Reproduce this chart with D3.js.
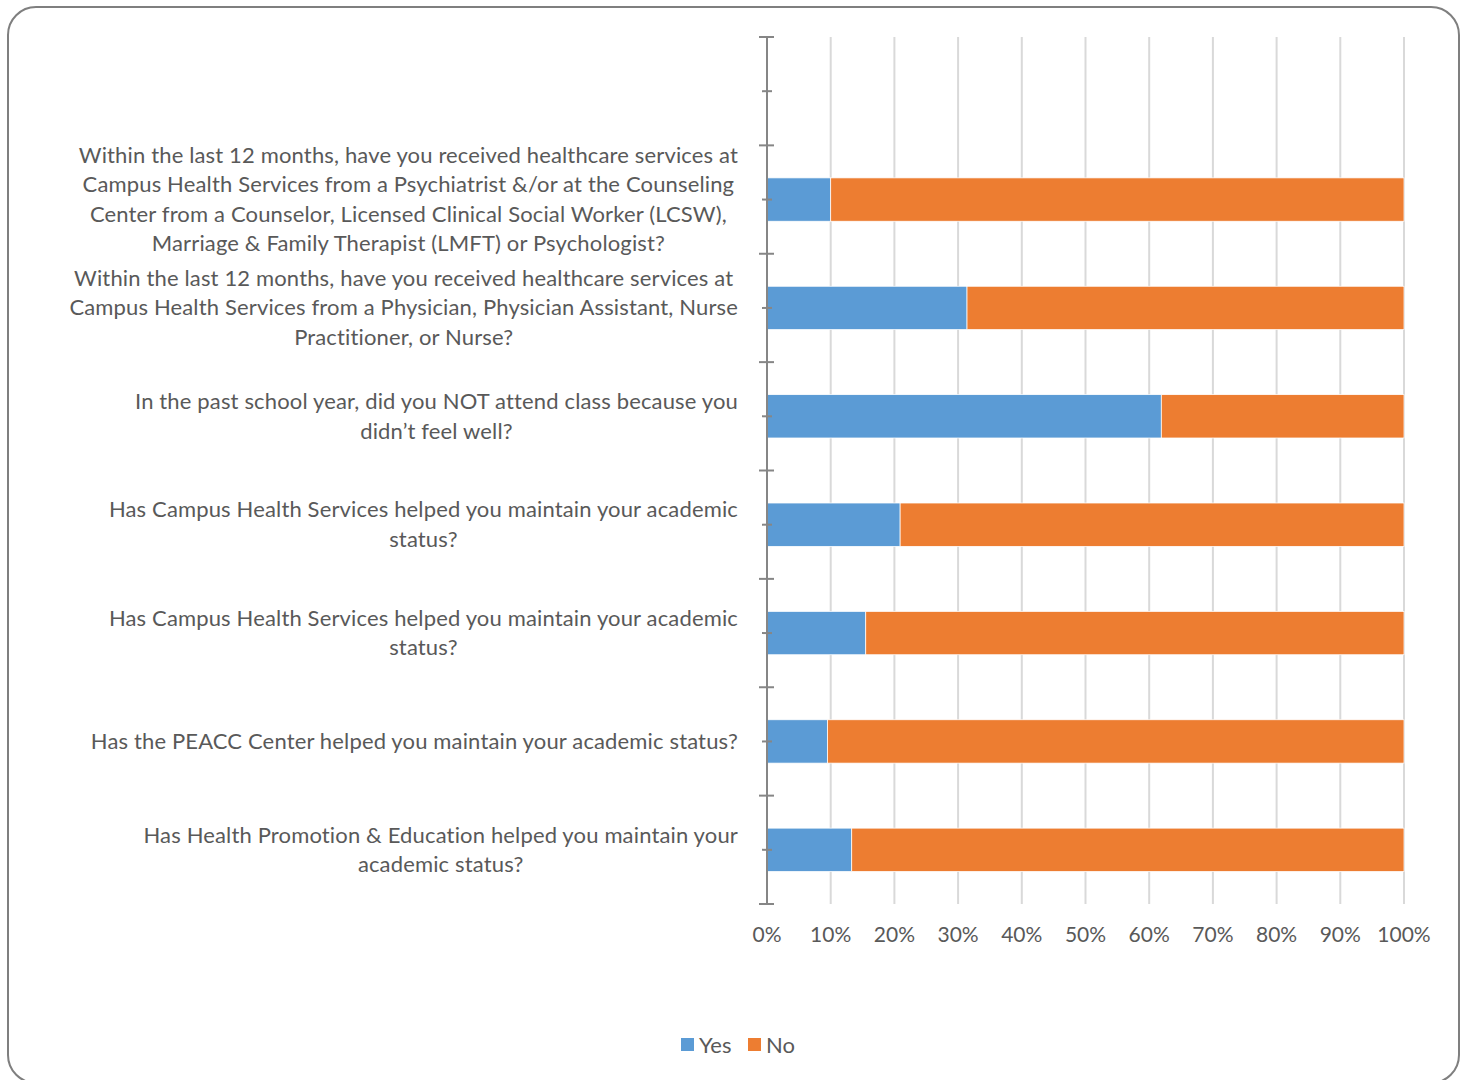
<!DOCTYPE html>
<html lang="en">

<head>
  <meta charset="utf-8">
  <title>Academic status survey</title>
  <script src="https://cdn.jsdelivr.net/npm/d3@7"></script>
  <style>
    body { margin: 0; background: #fff; }
    svg text { font-family: Lato, "Open Sans", sans-serif; fill: #595959; }
  </style>
</head>

<body>
  <svg id="chart" width="1461" height="1080"></svg>

  <script>
    // data
    var categories = [
      "Within the last 12 months, have you received healthcare services at\nCampus Health Services from a Psychiatrist &/or at the Counseling\nCenter from a Counselor, Licensed Clinical Social Worker (LCSW),\nMarriage & Family Therapist (LMFT) or Psychologist?",
      "Within the last 12 months, have you received healthcare services at\nCampus Health Services from a Physician, Physician Assistant, Nurse\nPractitioner, or Nurse?",
      "In the past school year, did you NOT attend class because you\ndidn\u2019t feel well?",
      "Has Campus Health Services helped you maintain your academic\nstatus?",
      "Has Campus Health Services helped you maintain your academic\nstatus?",
      "Has the PEACC Center helped you maintain your academic status?",
      "Has Health Promotion & Education helped you maintain your\nacademic status?"
    ];
    var yes = [10.0, 31.4, 61.9, 20.9, 15.5, 9.5, 13.3];
    var no = yes.map(function (v) { return 100 - v; });
    var seriesNames = ["Yes", "No"];
    var seriesColors = ["#5B9BD5", "#ED7D31"];
    var xTicks = [0, 10, 20, 30, 40, 50, 60, 70, 80, 90, 100];

    var svg = d3.select("#chart");

    // outer frame
    svg.append("rect")
      .attr("x", 8).attr("y", 7)
      .attr("width", 1451).attr("height", 1076)
      .attr("rx", 28).attr("ry", 28)
      .attr("fill", "none")
      .attr("stroke", "#7f7f7f")
      .attr("stroke-width", 2);

    var plot = { left: 767, right: 1404, top: 37, bottom: 904 };

    var x = d3.scaleLinear().domain([0, 100]).range([plot.left, plot.right]);

    // keys are indices so the two identical labels get their own band; "e" is the empty top slot
    var keys = ["e"].concat(categories.map(function (d, i) { return i; }));
    var y = d3.scaleBand().domain(keys).range([plot.top, plot.bottom]).paddingInner(0.6).paddingOuter(0.3);
    var yOuter = d3.scaleBand().domain(keys).range([plot.top, plot.bottom]);

    // gridlines
    svg.append("g").selectAll("line")
      .data(xTicks.slice(1))
      .join("line")
      .attr("x1", function (d) { return x(d); })
      .attr("x2", function (d) { return x(d); })
      .attr("y1", plot.top)
      .attr("y2", plot.bottom)
      .attr("stroke", "#d9d9d9")
      .attr("stroke-width", 2);

    // bars
    var rows = categories.map(function (c, i) { return { key: i, Yes: yes[i], No: no[i] }; });
    var stack = d3.stack().keys(seriesNames)(rows);

    svg.append("g").selectAll("g")
      .data(stack)
      .join("g")
      .attr("fill", function (d, i) { return seriesColors[i]; })
      .selectAll("rect")
      .data(function (d) { return d; })
      .join("rect")
      .attr("x", function (d) { return x(d[0]); })
      .attr("width", function (d) { return x(d[1]) - x(d[0]); })
      .attr("y", function (d) { return y(d.data.key); })
      .attr("height", y.bandwidth())
      .attr("stroke", "#fff")
      .attr("stroke-width", 0.75);

    // y axis line + ticks
    var axis = svg.append("g").attr("stroke", "#868686").attr("stroke-width", 2);
    axis.append("line")
      .attr("x1", plot.left).attr("x2", plot.left)
      .attr("y1", plot.top).attr("y2", plot.bottom);

    var bounds = keys.map(function (k) { return yOuter(k); }).concat([plot.bottom]);
    axis.selectAll(".major")
      .data(bounds)
      .join("line")
      .attr("class", "major")
      .attr("x1", plot.left - 8).attr("x2", plot.left + 7)
      .attr("y1", function (d) { return d; }).attr("y2", function (d) { return d; });

    axis.selectAll(".minor")
      .data(keys)
      .join("line")
      .attr("class", "minor")
      .attr("x1", plot.left - 5).attr("x2", plot.left + 5)
      .attr("y1", function (k) { return yOuter(k) + yOuter.bandwidth() / 2; })
      .attr("y2", function (k) { return yOuter(k) + yOuter.bandwidth() / 2; });

    // x tick labels
    svg.append("g").selectAll("text")
      .data(xTicks)
      .join("text")
      .attr("x", function (d) { return x(d); })
      .attr("y", 942)
      .attr("text-anchor", "middle")
      .style("font-size", "21px")
      .text(function (d) { return d + "%"; });

    // category labels, lines centred on each other, block right-aligned to the axis
    var lineH = 29.5;
    var labels = svg.append("g").selectAll("text")
      .data(categories)
      .join("text")
      .attr("text-anchor", "middle")
      .style("font-size", "22px")
      .style("letter-spacing", "0.15px");

    labels.each(function (c, i) {
      var t = d3.select(this);
      var lines = c.split("\n");
      var cy = yOuter(i) + yOuter.bandwidth() / 2;
      var y0 = cy - (lines.length - 1) * lineH / 2 + 7.5;
      lines.forEach(function (l, j) {
        t.append("tspan").attr("y", y0 + j * lineH).text(l);
      });
      var maxW = 0;
      t.selectAll("tspan").each(function () { maxW = Math.max(maxW, this.getComputedTextLength()); });
      t.selectAll("tspan").attr("x", 738 - maxW / 2);
    });

    // legend
    var legend = svg.append("g").attr("transform", "translate(681,1038)");
    var item = legend.selectAll("g")
      .data(seriesNames)
      .join("g")
      .attr("transform", function (d, i) { return "translate(" + (i * 67) + ",0)"; });
    item.append("rect")
      .attr("width", 13).attr("height", 13)
      .attr("fill", function (d, i) { return seriesColors[i]; });
    item.append("text")
      .attr("x", 18).attr("y", 15)
      .style("font-size", "22px")
      .text(function (d) { return d; });
  </script>
</body>

</html>
